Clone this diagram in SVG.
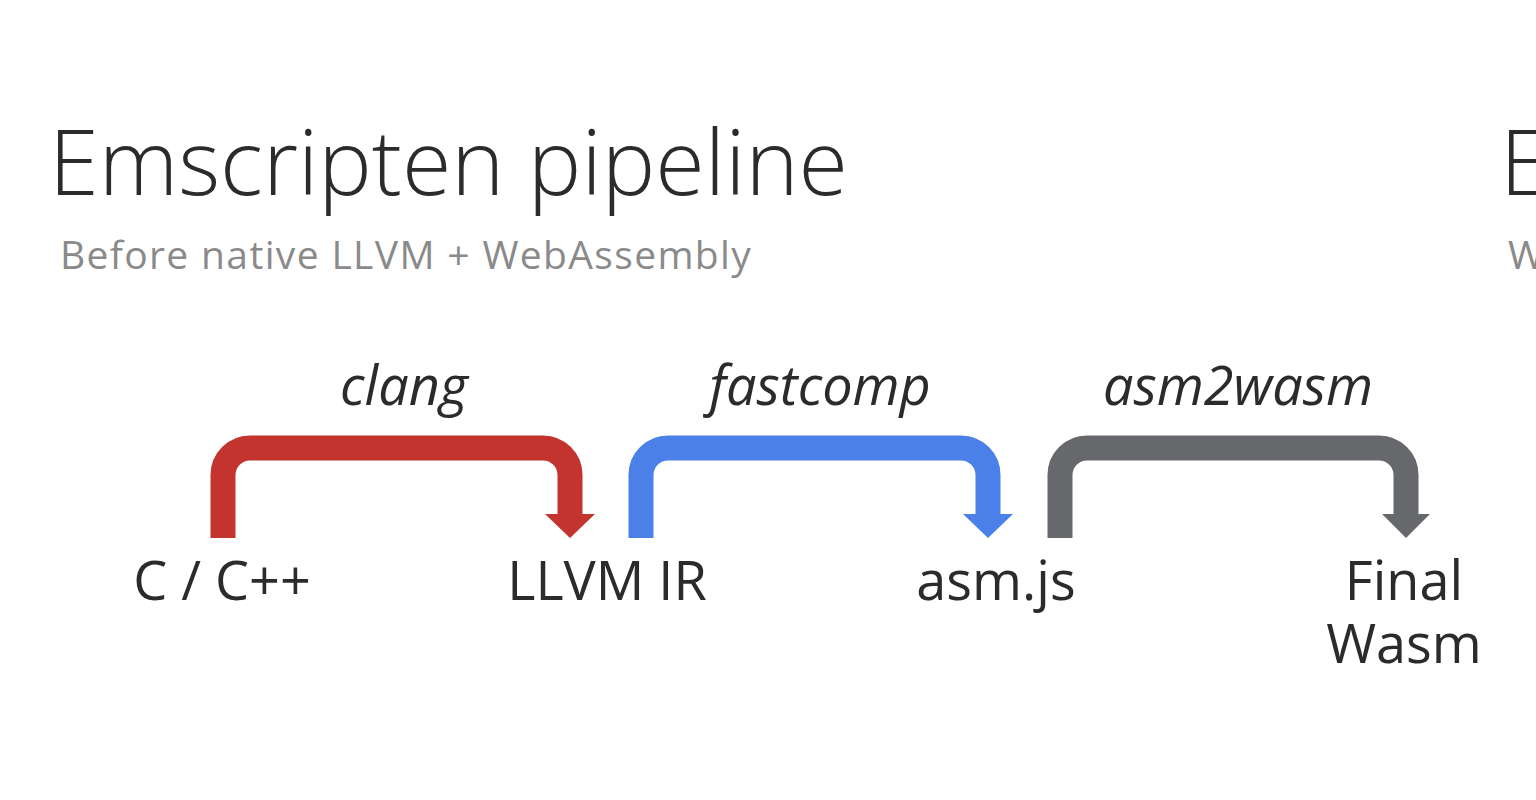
<svg xmlns="http://www.w3.org/2000/svg" width="1536" height="800" viewBox="0 0 1536 800">
<style>
.t{font-family:"Open Sans","Noto Sans","Liberation Sans",sans-serif;fill:#2b2b2b}
.title{font-size:90px;font-weight:300}
.sub{font-size:39px;fill:#8a8a8a;letter-spacing:1.35px}
.step{font-size:54px;font-style:italic}
.node{font-size:54px}
.arc{fill:none;stroke-width:25}
</style>
<rect width="1536" height="800" fill="#ffffff"/>
<text class="t title" x="49" y="195">Emscripten pipeline</text>
<text class="t sub" x="60" y="269">Before native LLVM + WebAssembly</text>
<text class="t title" x="1500" y="195">E</text>
<text class="t sub" x="1508" y="269">W</text>
<g id="connectors">
  <g id="clang">
    <path class="arc" stroke="#c4342f" d="M223,538 V475 A27,27 0 0 1 250,448 H543 A27,27 0 0 1 570,475 V516"/>
    <polygon fill="#c4342f" points="545,514 595,514 570,538"/>
    <text class="t step" x="404" y="405" text-anchor="middle">clang</text>
  </g>
  <g id="fastcomp">
    <path class="arc" stroke="#4a80e8" d="M641,538 V475 A27,27 0 0 1 668,448 H961 A27,27 0 0 1 988,475 V516"/>
    <polygon fill="#4a80e8" points="963,514 1013,514 988,538"/>
    <text class="t step" x="820" y="405" text-anchor="middle">fastcomp</text>
  </g>
  <g id="asm2wasm">
    <path class="arc" stroke="#67686b" d="M1060,538 V475 A27,27 0 0 1 1087,448 H1379 A27,27 0 0 1 1406,475 V516"/>
    <polygon fill="#67686b" points="1382,514 1430,514 1406,538"/>
    <text class="t step" x="1238" y="405" text-anchor="middle">asm2wasm</text>
  </g>
</g>
<g id="n-c"><text class="t node" x="222" y="600" text-anchor="middle">C / C++</text></g>
<g id="n-llvm"><text class="t node" x="607" y="600" text-anchor="middle">LLVM IR</text></g>
<g id="n-asmjs"><text class="t node" x="996" y="600" text-anchor="middle">asm.js</text></g>
<g id="n-wasm"><text class="t node" x="1404" y="600" text-anchor="middle"><tspan x="1404">Final</tspan><tspan x="1404" y="663">Wasm</tspan></text></g>
</svg>
